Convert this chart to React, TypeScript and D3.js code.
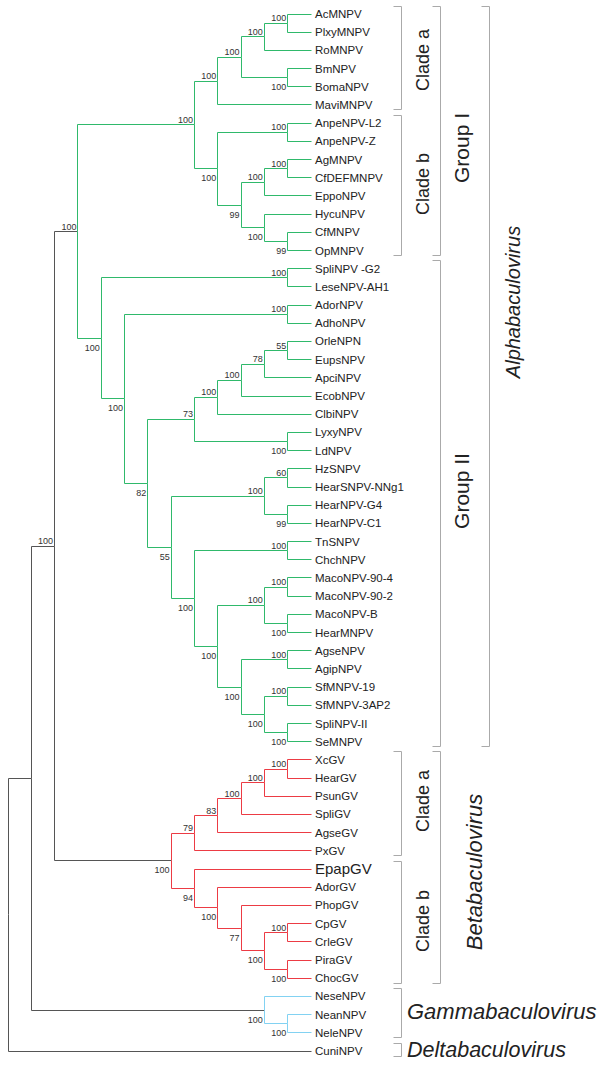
import React from 'react';
import * as d3 from 'd3';

// ---------- DATA (Newick strings with bootstrap support) ----------
const cladeIaNewick = "((((AcMNPV,PlxyMNPV)100,RoMNPV)100,(BmNPV,BomaNPV)100)100,MaviMNPV)100";
const cladeIbNewick = "((AnpeNPV-L2,AnpeNPV-Z)100,(((AgMNPV,CfDEFMNPV)100,EppoNPV)100,(HycuNPV,(CfMNPV,OpMNPV)99)100)99)100";
const groupIINewickA = "(((((OrleNPN,EupsNPV)55,ApciNPV)78,EcobNPV)100,ClbiNPV)100,(LyxyNPV,LdNPV)100)73";
const groupIINewickH = "((HzSNPV,HearSNPV-NNg1)60,(HearNPV-G4,HearNPV-C1)99)100";
const groupIINewickM = "((MacoNPV-90-4,MacoNPV-90-2)100,(MacoNPV-B,HearMNPV)100)100";
const groupIINewickS = "((AgseNPV,AgipNPV)100,((SfMNPV-19,SfMNPV-3AP2)100,(SpliNPV-II,SeMNPV)100)100)100";
const groupIINewick = `((SpliNPV -G2,LeseNPV-AH1)100,((AdorNPV,AdhoNPV)100,(${groupIINewickA},(${groupIINewickH},((TnSNPV,ChchNPV)100,(${groupIINewickM},${groupIINewickS})100)100)55)82)100)100`;
const alphaNewick = `((${cladeIaNewick},${cladeIbNewick})100,${groupIINewick})100`;
const betaNewick = "((((((XcGV,HearGV)100,PsunGV)100,SpliGV)100,AgseGV)83,PxGV)79,(EpapGV,(AdorGV,(PhopGV,((CpGV,CrleGV)100,(PiraGV,ChocGV)100)100)77)100)94)100";
const gammaNewick = "(NeseNPV,(NeanNPV,NeleNPV)100)100";
const deltaNewick = "CuniNPV";
const alphaBetaSupport = 100;

const largeLabels = ["EpapGV"];

const groupColors: Record<string, string> = {
  alpha: "#2fb96b",
  beta: "#ec3b44",
  gamma: "#82d2f2",
};

type Bracket = { from: string; to: string; level: number; label: string; italic?: boolean; horizontal?: boolean };
const brackets: Bracket[] = [
  { from: "AcMNPV", to: "MaviMNPV", level: 0, label: "Clade a" },
  { from: "AnpeNPV-L2", to: "OpMNPV", level: 0, label: "Clade b" },
  { from: "AcMNPV", to: "OpMNPV", level: 1, label: "Group I" },
  { from: "SpliNPV -G2", to: "SeMNPV", level: 1, label: "Group II" },
  { from: "AcMNPV", to: "SeMNPV", level: 2, label: "Alphabaculovirus", italic: true },
  { from: "XcGV", to: "PxGV", level: 0, label: "Clade a" },
  { from: "EpapGV", to: "ChocGV", level: 0, label: "Clade b" },
  { from: "XcGV", to: "ChocGV", level: 1, label: "Betabaculovirus", italic: true },
  { from: "NeseNPV", to: "NeleNPV", level: 0, label: "Gammabaculovirus", italic: true, horizontal: true },
  { from: "CuniNPV", to: "CuniNPV", level: 0, label: "Deltabaculovirus", italic: true, horizontal: true },
];

// ---------- parsing ----------
type TNode = { name?: string; support?: number; group?: string; children?: TNode[] };

function parseNewick(s: string, group?: string): TNode {
  let i = 0;
  function node(): TNode {
    const n: TNode = { group };
    if (s[i] === '(') {
      i++;
      n.children = [];
      while (i < s.length) {
        n.children.push(node());
        if (s[i] === ',') { i++; continue; }
        if (s[i] === ')') { i++; break; }
      }
      let num = '';
      while (i < s.length && /[0-9]/.test(s[i])) num += s[i++];
      if (num) n.support = +num;
    } else {
      let name = '';
      while (i < s.length && s[i] !== ',' && s[i] !== ')') name += s[i++];
      n.name = name;
    }
    return n;
  }
  return node();
}

const treeData: TNode = {
  children: [
    {
      children: [
        { support: alphaBetaSupport, children: [parseNewick(alphaNewick, 'alpha'), parseNewick(betaNewick, 'beta')] },
        parseNewick(gammaNewick, 'gamma'),
      ],
    },
    parseNewick(deltaNewick),
  ],
};

const FONT = "'Liberation Sans', Arial, Helvetica, sans-serif";
const snap = (v: number) => Math.round(v - 0.5) + 0.5;

export default function App() {
  const W = 600, H = 1065;
  const root = d3.hierarchy<TNode>(treeData, d => d.children);
  const leaves = root.leaves();
  const yScale = d3.scaleLinear().domain([0, leaves.length - 1]).range([14, 1051]);
  const xScale = d3.scaleLinear().domain([root.height, 0]).range([8, 311]);
  const pos = new Map<any, { x: number; y: number }>();
  const leafY = new Map<string, number>();
  leaves.forEach((l, i) => {
    pos.set(l, { x: xScale(0), y: yScale(i) });
    leafY.set(l.data.name!, yScale(i));
  });
  root.eachAfter(n => {
    if (n.children) {
      const f = pos.get(n.children[0])!;
      const l = pos.get(n.children[n.children.length - 1])!;
      pos.set(n, { x: xScale(n.height), y: (f.y + l.y) / 2 });
    }
  });

  const links = root.descendants().filter(n => n.parent);
  const bracketX = [401, 440, 489];

  const labelLayout: Record<string, { x: number; y: number; size: number }> = {
    "Clade a|0": { x: 429, y: 60, size: 18 },
    "Clade b|1": { x: 429, y: 184, size: 18 },
    "Group I": { x: 469, y: 148, size: 21 },
    "Group II": { x: 469, y: 491, size: 21 },
    "Alphabaculovirus": { x: 520, y: 302, size: 20 },
    "Clade a|5": { x: 429, y: 801, size: 18 },
    "Clade b|6": { x: 429, y: 921, size: 18 },
    "Betabaculovirus": { x: 482, y: 872, size: 22 },
    "Gammabaculovirus": { x: 407, y: 1019, size: 22 },
    "Deltabaculovirus": { x: 407, y: 1057, size: 21.5 },
  };

  return (
    <svg width={W} height={H} style={{ position: 'absolute', left: 0, top: 0, background: '#fff' }}>
      <g fill="none" strokeWidth={1}>
        {links.map((n, i) => {
          const p = pos.get(n.parent)!;
          const c = pos.get(n)!;
          const col = n.parent!.data.group ? groupColors[n.parent!.data.group] : '#555';
          return (
            <path key={i}
              d={`M${snap(p.x)},${snap(p.y)}V${snap(c.y)}H${snap(c.x)}`}
              stroke={col} />
          );
        })}
      </g>
      <g fontFamily={FONT} fontSize={9} fill="#333">
        {links.filter(n => n.data.support != null).map((n, i) => {
          const p = pos.get(n.parent)!;
          const c = pos.get(n)!;
          const upper = c.y < p.y;
          return (
            <text key={i} x={c.x - 1.5} y={upper ? c.y - 2 : c.y + 12.5} textAnchor="end">
              {n.data.support}
            </text>
          );
        })}
      </g>
      <g fontFamily={FONT} fill="#222">
        {leaves.map((l, i) => {
          const c = pos.get(l)!;
          const big = largeLabels.includes(l.data.name!);
          return (
            <text key={i} x={315} y={c.y + (big ? 5 : 4)} fontSize={big ? 15 : 11.5}>
              {l.data.name}
            </text>
          );
        })}
      </g>
      <g>
        {brackets.map((b, i) => {
          const y0 = snap(leafY.get(b.from)! - 8);
          const y1 = snap(leafY.get(b.to)! + 5);
          const bx = snap(bracketX[b.level]);
          const key = labelLayout[b.label] ? b.label : `${b.label}|${i}`;
          const L = labelLayout[key];
          return (
            <g key={i}>
              <path d={`M${bx - 8},${y0}H${bx}V${y1}H${bx - 8}`} fill="none" stroke="#aaa" strokeWidth={1} />
              {b.horizontal ? (
                <text x={L.x} y={L.y} fontFamily={FONT} fontSize={L.size} fontStyle="italic" fill="#222">
                  {b.label}
                </text>
              ) : (
                <text transform={`translate(${L.x},${L.y}) rotate(-90)`} textAnchor="middle"
                  fontFamily={FONT} fontSize={L.size} fontStyle={b.italic ? 'italic' : 'normal'} fill="#222">
                  {b.label}
                </text>
              )}
            </g>
          );
        })}
      </g>
    </svg>
  );
}
